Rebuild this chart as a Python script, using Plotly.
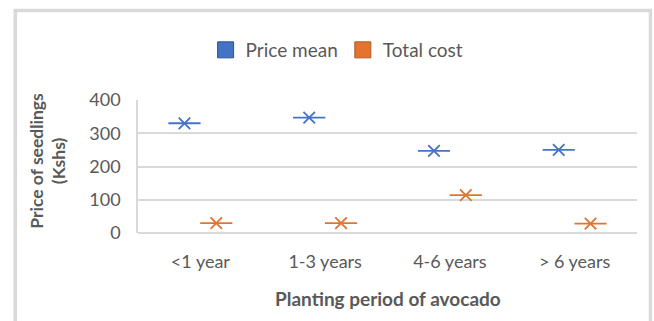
import plotly.graph_objects as go

categories = ["<1 year", "1-3 years", "4-6 years", "> 6 years"]
price_mean = [330, 347, 247, 250]
total_cost = [30, 30, 114, 28]
y_ticks = [0, 100, 200, 300, 400]

BLUE = "#4472C4"
ORANGE = "#E2742F"
GRID = "#D9D9D9"
TXT = "#595959"
FONT = "Lato"

W, H = 654, 321
L, R, T, B = 137.5, 16.5, 100, 88
pw, ph = W - L - R, H - T - B


def px_x(p):
    return (p - L) / pw


def px_y(p):
    return (H - B - p) / ph


fig = go.Figure()
for name, vals, col, grp in [("Price mean", price_mean, BLUE, "a"),
                             ("Total cost", total_cost, ORANGE, "b")]:
    fig.add_trace(go.Scatter(x=categories, y=vals, mode="markers", showlegend=False,
                             offsetgroup=grp, hoverinfo="skip",
                             marker=dict(symbol="line-ew-open", size=23, color=col,
                                         line=dict(color=col, width=1.8))))
    fig.add_trace(go.Scatter(x=categories, y=vals, mode="markers", showlegend=False,
                             offsetgroup=grp, name=name,
                             marker=dict(symbol="x-thin-open", size=11.5, color=col,
                                         line=dict(color=col, width=1.8))))
    fig.add_trace(go.Scatter(x=[None], y=[None], mode="markers", name=name,
                             offsetgroup=grp,
                             marker=dict(symbol="square", size=17, color=col,
                                         line=dict(color="#2F528F" if grp == "a" else "#AE5A21", width=1))))

fig.update_layout(
    width=W, height=H,
    margin=dict(l=L, r=R, t=T, b=B),
    paper_bgcolor="white", plot_bgcolor="white",
    scattermode="group", scattergap=0.49,
    font=dict(family=FONT, color=TXT, size=18),
    showlegend=True,
    legend=dict(orientation="h", x=px_x(337), xanchor="center", y=px_y(50), yanchor="middle",
                font=dict(size=19, color=TXT), itemwidth=30, traceorder="normal"),
    xaxis=dict(type="category", showgrid=False, showline=False, zeroline=False,
               ticks="", tickfont=dict(size=18, color=TXT), ticklabelstandoff=16),
    yaxis=dict(range=[0, 400], tickvals=y_ticks, showgrid=True, gridcolor=GRID, gridwidth=1.6,
               zeroline=True, zerolinecolor=GRID, zerolinewidth=1.6,
               showline=True, linecolor=GRID, linewidth=1.6, ticks="",
               tickfont=dict(size=18, color=TXT), ticklabelstandoff=12),
    shapes=[dict(type="rect", xref="paper", yref="paper",
                 x0=px_x(14.5), x1=px_x(651), y0=px_y(340), y1=px_y(10.5),
                 line=dict(color=GRID, width=3.5), fillcolor="rgba(0,0,0,0)", layer="below")],
    annotations=[
        dict(text="<b>Planting period of avocado</b>", xref="paper", yref="paper",
             x=px_x(388), y=px_y(298), xanchor="center", yanchor="middle", showarrow=False,
             font=dict(size=19, color=TXT)),
        dict(text="<b>Price of seedlings<br>(Kshs)</b>", xref="paper", yref="paper",
             x=px_x(47), y=px_y(161), xanchor="center", yanchor="middle", showarrow=False,
             textangle=-90, font=dict(size=17.5, color=TXT)),
    ],
)

fig.write_html("out.html")
